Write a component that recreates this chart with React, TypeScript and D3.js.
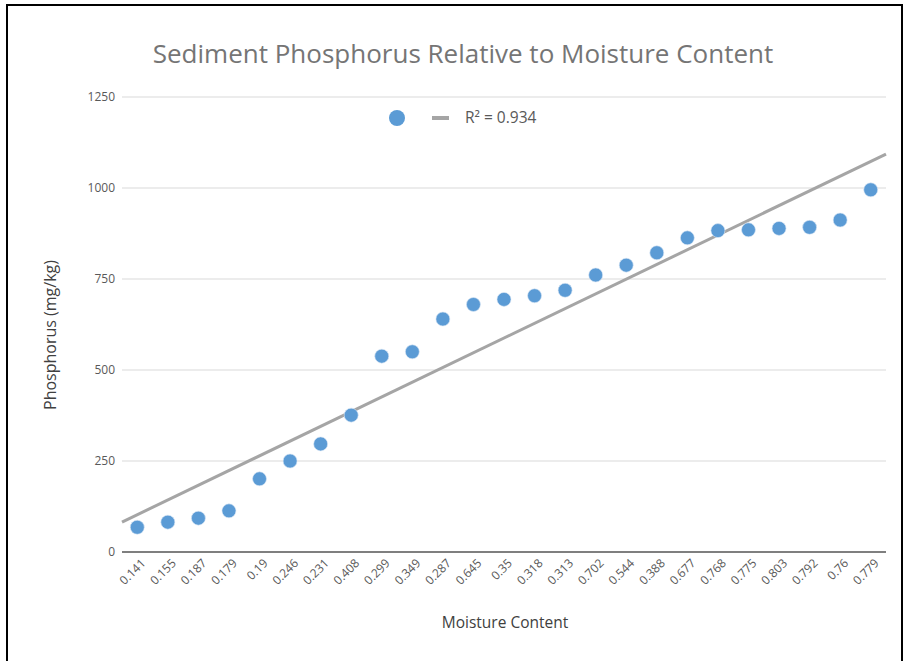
import * as d3 from "d3";

const moisture = [
  "0.141", "0.155", "0.187", "0.179", "0.19", "0.246", "0.231", "0.408", "0.299",
  "0.349", "0.287", "0.645", "0.35", "0.318", "0.313", "0.702", "0.544", "0.388",
  "0.677", "0.768", "0.775", "0.803", "0.792", "0.76", "0.779",
];
const phosphorus = [
  68, 82, 93, 113, 201, 250, 297, 376, 538, 550, 640, 680, 694, 704, 719, 761,
  788, 822, 863, 883, 885, 889, 892, 912, 995,
];
const yTicks = [0, 250, 500, 750, 1000, 1250];
const rSquaredLabel = "R² = 0.934";

const W = 909;
const H = 661;
const margin = { top: 97, right: 23, bottom: 109, left: 122 };
const font = "'Open Sans', 'Noto Sans', sans-serif";

export default function App() {
  const innerW = W - margin.left - margin.right;
  const x = d3.scaleBand<string>().domain(moisture).range([margin.left, W - margin.right]);
  const y = d3.scaleLinear().domain([0, 1250]).range([H - margin.bottom, margin.top]);
  const cx = (i: number) => margin.left + (i + 0.5) * x.bandwidth();

  // least-squares trendline on category index (like Excel's linear trendline)
  const idx = phosphorus.map((_, i) => i);
  const mx = d3.mean(idx)!;
  const my = d3.mean(phosphorus)!;
  const slope =
    d3.sum(idx, (i) => (i - mx) * (phosphorus[i] - my)) / d3.sum(idx, (i) => (i - mx) ** 2);
  const intercept = my - slope * mx;
  const trend = d3
    .line<number>()
    .x((i) => cx(i))
    .y((i) => y(intercept + slope * i));
  const ends = [-0.5, phosphorus.length - 0.5];

  return (
    <svg
      width={W}
      height={H}
      style={{ position: "absolute", left: 0, top: 0, background: "white" }}
    >
      <rect x={7} y={5} width={895} height={H + 10} fill="white" stroke="black" strokeWidth={2} />

      <text
        x={463}
        y={63}
        textAnchor="middle"
        fontFamily={font}
        fontSize={26}
        fill="#757575"
      >
        Sediment Phosphorus Relative to Moisture Content
      </text>

      {/* gridlines + y labels */}
      {yTicks.map((t) => (
        <g key={t}>
          {t > 0 && (
            <line
              x1={margin.left}
              x2={margin.left + innerW}
              y1={y(t)}
              y2={y(t)}
              stroke="#d9d9d9"
              strokeWidth={1}
            />
          )}
          <text
            x={115}
            y={y(t)}
            dy="0.35em"
            textAnchor="end"
            fontFamily={font}
            fontSize={12}
            fill="#595959"
          >
            {t}
          </text>
        </g>
      ))}

      {/* x axis */}
      <line
        x1={margin.left}
        x2={margin.left + innerW}
        y1={y(0)}
        y2={y(0)}
        stroke="#7f7f7f"
        strokeWidth={2}
      />
      {moisture.map((m, i) => (
        <text
          key={m + i}
          transform={`translate(${cx(i) + 6},${y(0) + 9}) rotate(-45)`}
          textAnchor="end"
          dy="0.35em"
          fontFamily={font}
          fontSize={12}
          fill="#595959"
        >
          {m}
        </text>
      ))}

      {/* trendline */}
      <path d={trend(ends) ?? ""} fill="none" stroke="#a5a5a5" strokeWidth={3} />

      {/* points */}
      {phosphorus.map((v, i) => (
        <circle key={i} cx={cx(i)} cy={y(v)} r={7} fill="#5b9bd5" stroke="#dbe8f5" strokeWidth={0.6} />
      ))}

      {/* legend */}
      <circle cx={397} cy={118} r={8} fill="#5b9bd5" />
      <line x1={432} x2={449} y1={118} y2={118} stroke="#a5a5a5" strokeWidth={4} />
      <text x={465} y={118} dy="0.35em" fontFamily={font} fontSize={15.5} fill="#595959">
        {rSquaredLabel}
      </text>

      {/* axis titles */}
      <text
        transform={`translate(56,335) rotate(-90)`}
        textAnchor="middle"
        fontFamily={font}
        fontSize={16}
        fill="#404040"
      >
        Phosphorus (mg/kg)
      </text>
      <text x={505} y={628} textAnchor="middle" fontFamily={font} fontSize={15.5} fill="#404040">
        Moisture Content
      </text>
    </svg>
  );
}
